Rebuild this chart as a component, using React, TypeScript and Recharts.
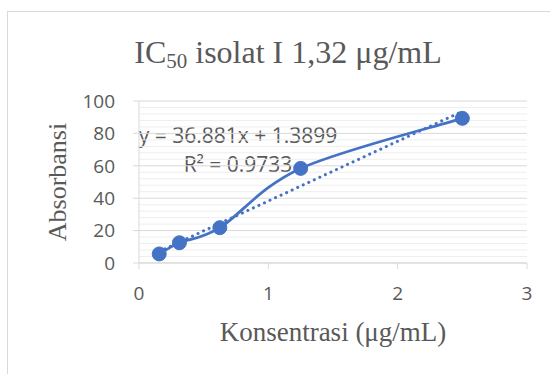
import React from 'react';
import { ComposedChart, Line, XAxis, YAxis, CartesianGrid, ReferenceLine } from 'recharts';

const concentrations = [0.15625, 0.3125, 0.625, 1.25, 2.5];
const absorbance = [5.6, 12.5, 21.8, 58.4, 89.3];
const trendX = [0.15625, 2.5];
const trendY = [7.15, 93.59];
const xTicks = [0, 1, 2, 3];
const yTicks = [0, 20, 40, 60, 80, 100];
const minorGrid = [4, 8, 12, 16, 24, 28, 32, 36, 44, 48, 52, 56, 64, 68, 72, 76, 84, 88, 92, 96];
const titleMain = 'IC';
const titleSub = '50';
const titleRest = ' isolat I 1,32 μg/mL';
const xTitle = 'Konsentrasi (μg/mL)';
const yTitle = 'Absorbansi';
const eqLine = 'y = 36.881x + 1.3899';
const r2Line = 'R² = 0.9733';

const BLUE = '#4472C4';
const TXT = '#595959';
const SANS = '"Open Sans", sans-serif';
const SERIF = '"Liberation Serif", "Times New Roman", serif';

const seriesData = concentrations.map((x, i) => ({ x, y: absorbance[i] }));
const trendData = trendX.map((x, i) => ({ x, t: trendY[i] }));

// Spreadsheet-style smoothed curve (Catmull-Rom as cubic Bezier), d3 curve interface
function smoothCurve(context: any) {
  let pts: [number, number][] = [];
  return {
    areaStart() {},
    areaEnd() {},
    lineStart() {
      pts = [];
    },
    point(x: number, y: number) {
      pts.push([+x, +y]);
    },
    lineEnd() {
      const n = pts.length;
      if (!n) return;
      context.moveTo(pts[0][0], pts[0][1]);
      if (n === 1) return;
      for (let i = 0; i < n - 1; i++) {
        const p0 = pts[Math.max(i - 1, 0)];
        const p1 = pts[i];
        const p2 = pts[i + 1];
        const p3 = pts[Math.min(i + 2, n - 1)];
        const c1x = p1[0] + (p2[0] - p0[0]) / 6;
        const c1y = p1[1] + (p2[1] - p0[1]) / 6;
        const c2x = p2[0] - (p3[0] - p1[0]) / 6;
        const c2y = p2[1] - (p3[1] - p1[1]) / 6;
        context.bezierCurveTo(c1x, c1y, c2x, c2y, p2[0], p2[1]);
      }
    },
  };
}

export default function App() {
  return (
    <div style={{ position: 'absolute', left: 0, top: 0, width: 550, height: 374, overflow: 'hidden', background: '#fff' }}>
      <div style={{ position: 'absolute', left: 7, top: 11, width: 600, height: 400, borderLeft: '1px solid #d9d9d9', borderTop: '1px solid #d9d9d9' }} />
      <svg width={550} height={374} style={{ position: 'absolute', left: 0, top: 0 }}>
        <text x={288} y={63} textAnchor="middle" fontFamily={SERIF} fontSize={32} fill={TXT}>
          {titleMain}
          <tspan fontSize={21} dy={5}>{titleSub}</tspan>
          <tspan dy={-5}>{titleRest}</tspan>
        </text>
        <text x={333} y={341} textAnchor="middle" fontFamily={SERIF} fontSize={27} fill={TXT}>{xTitle}</text>
        <text x={66} y={182} transform="rotate(-90 66 182)" textAnchor="middle" fontFamily={SERIF} fontSize={26} fill={TXT}>{yTitle}</text>
        <text x={238} y={143} textAnchor="middle" fontFamily={SANS} fontSize={21} fill={TXT}>{eqLine}</text>
        <text x={238} y={172} textAnchor="middle" fontFamily={SANS} fontSize={21} fill={TXT}>{r2Line}</text>
      </svg>
      <div style={{ position: 'absolute', left: 0, top: 0 }}>
        <ComposedChart width={550} height={374} margin={{ top: 101, right: 23, bottom: 0, left: 0 }}>
          {minorGrid.map((v) => (
            <ReferenceLine key={v} y={v} stroke="#eeeeee" strokeWidth={1} />
          ))}
          <CartesianGrid vertical={false} stroke="#d9d9d9" />
          <XAxis
            type="number"
            dataKey="x"
            domain={[0, 3]}
            ticks={xTicks}
            allowDataOverflow
            height={111}
            tickSize={6}
            tickMargin={18}
            axisLine={{ stroke: '#d9d9d9' }}
            tickLine={{ stroke: '#d9d9d9' }}
            tick={{ fill: TXT, fontSize: 19, fontFamily: SANS }}
          />
          <YAxis
            type="number"
            domain={[0, 100]}
            ticks={yTicks}
            width={139}
            tickSize={6}
            tickMargin={18}
            axisLine={{ stroke: '#d9d9d9' }}
            tickLine={{ stroke: '#d9d9d9' }}
            tick={{ fill: TXT, fontSize: 19, fontFamily: SANS }}
          />
          <Line
            data={trendData}
            dataKey="t"
            type="linear"
            stroke={BLUE}
            strokeWidth={3}
            strokeDasharray="0.1 6"
            strokeLinecap="round"
            dot={false}
            activeDot={false}
            isAnimationActive={false}
          />
          <Line
            data={seriesData}
            dataKey="y"
            type={smoothCurve as any}
            stroke={BLUE}
            strokeWidth={2.75}
            dot={{ r: 7, fill: BLUE, stroke: BLUE, strokeWidth: 1 }}
            activeDot={false}
            isAnimationActive={false}
          />
        </ComposedChart>
      </div>
    </div>
  );
}
